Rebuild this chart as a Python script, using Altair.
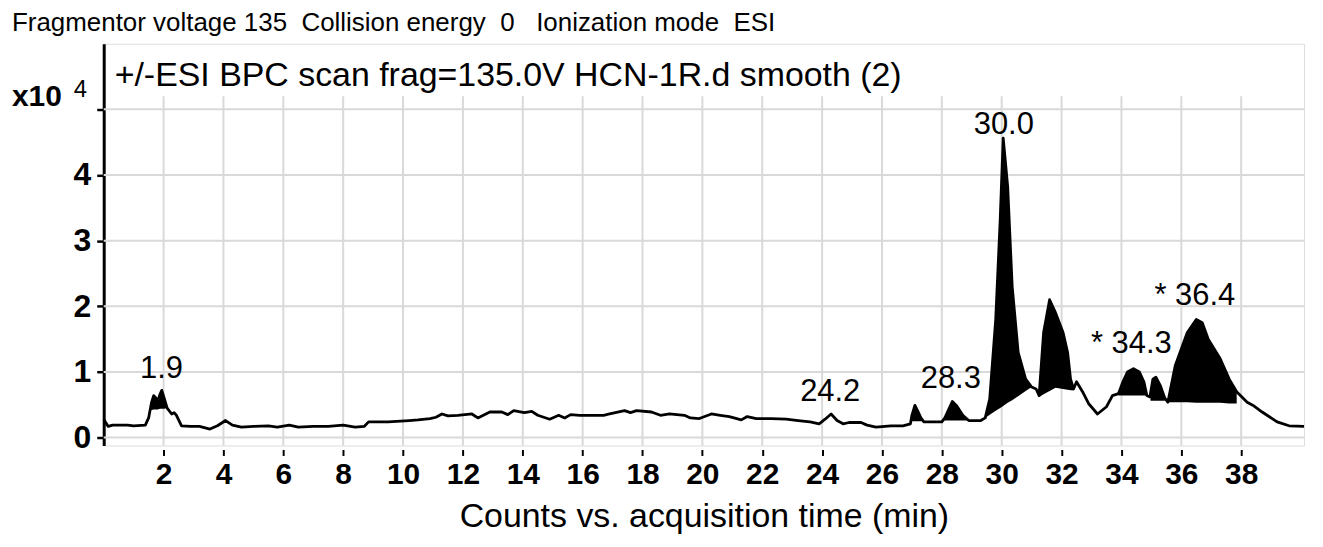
import altair as alt
import pandas as pd

# ---- chromatogram trace (minutes, counts x10^4) ----
trace_t = [0.0, 0.15, 0.3, 0.8, 1.0, 1.39, 1.5, 1.6, 1.67, 1.75, 1.8, 1.88, 1.94, 2.02, 2.12,
           2.27, 2.35, 2.43, 2.6, 2.9, 3.2, 3.55, 3.8, 4.07, 4.3, 4.6, 5.0, 5.5, 5.8, 6.2, 6.5,
           7.0, 7.5, 8.0, 8.4, 8.7, 8.85, 9.5, 10.2, 10.5, 10.9, 11.1, 11.3, 11.5, 11.83, 12.3,
           12.5, 12.9, 13.3, 13.5, 13.7, 14.05, 14.3, 14.5, 14.9, 15.2, 15.4, 15.6, 15.9, 16.7,
           16.9, 17.4, 17.6, 17.8, 18.3, 18.6, 18.9, 19.4, 19.6, 19.9, 20.3, 20.6, 20.9, 21.3,
           21.5, 21.8, 22.3, 22.8, 23.2, 23.6, 23.9, 24.1, 24.3, 24.5, 24.7, 24.9, 25.3, 25.5,
           25.8, 26.3, 26.7, 26.95, 27.0, 27.1, 27.2, 27.3, 27.4, 28.0, 28.1, 28.2, 28.35, 28.5,
           28.7, 28.9, 29.3, 29.45, 29.6, 29.8, 29.95, 30.05, 30.2, 30.35, 30.55, 30.8, 31.0,
           31.15, 31.25, 31.4, 31.6, 31.8, 32.05, 32.2, 32.3, 32.4, 32.5, 32.7, 32.9, 33.2, 33.5,
           33.7, 33.9, 34.05, 34.2, 34.4, 34.6, 34.75, 34.85, 34.95, 35.05, 35.15, 35.3, 35.45,
           35.55, 35.8, 36.2, 36.5, 36.7, 36.9, 37.3, 37.6, 37.85, 38.2, 38.4, 38.7, 39.2, 39.6,
           40.1]
trace_v = [0.28, 0.17, 0.19, 0.19, 0.18, 0.19, 0.30, 0.54, 0.64, 0.60, 0.54, 0.66, 0.72, 0.60, 0.45,
           0.36, 0.38, 0.34, 0.18, 0.17, 0.17, 0.13, 0.18, 0.26, 0.19, 0.16, 0.17, 0.18, 0.16, 0.19, 0.16,
           0.17, 0.17, 0.19, 0.16, 0.17, 0.24, 0.24, 0.26, 0.27, 0.29, 0.31, 0.36, 0.33, 0.34, 0.36,
           0.30, 0.39, 0.39, 0.35, 0.41, 0.38, 0.40, 0.34, 0.28, 0.34, 0.30, 0.35, 0.34, 0.34,
           0.36, 0.41, 0.38, 0.41, 0.39, 0.34, 0.36, 0.34, 0.30, 0.29, 0.36, 0.34, 0.32, 0.27,
           0.32, 0.29, 0.29, 0.28, 0.26, 0.24, 0.21, 0.28, 0.36, 0.26, 0.21, 0.23, 0.23, 0.19,
           0.16, 0.18, 0.18, 0.21, 0.34, 0.49, 0.40, 0.30, 0.24, 0.24, 0.30, 0.40, 0.55, 0.48,
           0.34, 0.26, 0.26, 0.30, 0.59, 1.80, 3.32, 4.56, 3.82, 2.30, 1.30, 0.89, 0.77,
           0.74, 0.64, 1.60, 2.10, 1.90, 1.60, 1.30, 0.89, 0.74, 0.85, 0.70, 0.52, 0.36, 0.47,
           0.64, 0.67, 0.85, 1.00, 1.05, 1.00, 0.85, 0.64, 0.62, 0.89, 0.92, 0.79, 0.60,
           0.54, 1.10, 1.60, 1.80, 1.75, 1.50, 1.20, 0.89, 0.70, 0.54, 0.49, 0.39, 0.24, 0.18,
           0.17]

# ---- integrated (filled) peaks ----
fill_peak = (["1.9"] * 9 + ["27.1"] * 6 + ["28.3"] * 7 + ["30.0"] * 10 + ["31.6"] * 8
             + ["34.3"] * 8 + ["35.1"] * 5 + ["36.4"] * 9)
fill_t = [1.55, 1.6, 1.67, 1.75, 1.8, 1.88, 1.94, 2.02, 2.12,
          26.97, 27.0, 27.1, 27.2, 27.3, 27.35,
          28.05, 28.1, 28.2, 28.35, 28.5, 28.7, 28.85,
          29.45, 29.6, 29.8, 29.95, 30.05, 30.2, 30.35, 30.55, 30.8, 31.0,
          31.25, 31.4, 31.6, 31.8, 32.05, 32.2, 32.3, 32.38,
          33.9, 34.05, 34.2, 34.4, 34.6, 34.75, 34.85, 34.87,
          34.97, 35.05, 35.15, 35.3, 35.45,
          35.57, 35.8, 36.2, 36.5, 36.7, 36.9, 37.3, 37.6, 37.85]
fill_top = [0.42, 0.54, 0.64, 0.60, 0.54, 0.66, 0.72, 0.60, 0.45,
            0.27, 0.34, 0.49, 0.40, 0.30, 0.27,
            0.27, 0.30, 0.40, 0.55, 0.48, 0.34, 0.28,
            0.30, 0.59, 1.80, 3.32, 4.56, 3.82, 2.30, 1.30, 0.89, 0.77,
            0.64, 1.60, 2.10, 1.90, 1.60, 1.30, 0.89, 0.76,
            0.67, 0.85, 1.00, 1.05, 1.00, 0.85, 0.64, 0.64,
            0.62, 0.89, 0.92, 0.79, 0.60,
            0.58, 1.10, 1.60, 1.80, 1.75, 1.50, 1.20, 0.89, 0.70]
fill_base = [0.42, 0.42, 0.43, 0.43, 0.43, 0.44, 0.44, 0.44, 0.45,
             0.25, 0.25, 0.25, 0.25, 0.25, 0.25,
             0.26, 0.26, 0.26, 0.26, 0.26, 0.26, 0.26,
             0.30, 0.35, 0.41, 0.45, 0.48, 0.53, 0.57, 0.63, 0.71, 0.77,
             0.62, 0.66, 0.71, 0.76, 0.74, 0.73, 0.72, 0.72,
             0.64, 0.64, 0.64, 0.64, 0.64, 0.64, 0.64, 0.64,
             0.56, 0.56, 0.56, 0.56, 0.56,
             0.54, 0.54, 0.54, 0.53, 0.53, 0.53, 0.53, 0.52, 0.52]

# ---- peak annotations ----
label_text = ["1.9", "24.2", "28.3", "30.0", "* 34.3", "* 36.4"]
label_t = [1.93, 24.27, 28.3, 30.07, 34.33, 36.45]
label_v = [1.045, 0.70, 0.89, 4.76, 1.42, 2.15]

# ---- axes / grid ----
x_ticks = list(range(2, 39, 2))
y_ticks = [0, 1, 2, 3, 4, 5]
x_domain = [0, 40.1]
y_domain = [-0.12, 6.0]
grid_top = 5.2

FONT = "Liberation Sans"
NB = "\u00a0"

trace_df = pd.DataFrame({"t": trace_t, "v": trace_v})
fill_df = pd.DataFrame({"peak": fill_peak, "t": fill_t, "v": fill_top, "v2": fill_base})
label_df = pd.DataFrame({"label": label_text, "t": label_t, "v": label_v})
vgrid_df = pd.DataFrame({"t": x_ticks, "v": [y_domain[0]] * len(x_ticks), "v2": [grid_top] * len(x_ticks)})
hgrid_df = pd.DataFrame({"v": y_ticks})

x_axis = alt.Axis(values=x_ticks, title="Counts vs. acquisition time (min)", grid=False,
                  domain=False, offset=4, tickSize=6, tickColor="black", tickWidth=2,
                  labelFontSize=30, labelFontWeight="bold", labelColor="black", labelPadding=4,
                  labelFont=FONT, titleFont=FONT,
                  titleFontSize=34, titleFontWeight="normal", titlePadding=10, titleColor="black")
y_axis = alt.Axis(values=y_ticks, title=None, grid=False, domainColor="black", domainWidth=3,
                  tickSize=7, tickColor="black", tickWidth=2.5, labelFontSize=32,
                  labelFont=FONT,
                  labelFontWeight="bold", labelColor="black", labelPadding=6,
                  labelExpr="datum.value == 5 ? '' : datum.label")

xs = alt.Scale(domain=x_domain, nice=False, zero=False)
ys = alt.Scale(domain=y_domain, nice=False, zero=False)

GRID = "#d9d9d9"

vgrid = alt.Chart(vgrid_df).mark_rule(color=GRID, strokeWidth=2).encode(
    x=alt.X("t:Q", scale=xs, axis=x_axis),
    y=alt.Y("v:Q", scale=ys, axis=y_axis),
    y2="v2:Q",
)
hgrid = alt.Chart(hgrid_df).mark_rule(color=GRID, strokeWidth=2).encode(
    y=alt.Y("v:Q", scale=ys, axis=y_axis),
)
fills = alt.Chart(fill_df).mark_area(color="black", opacity=1).encode(
    x=alt.X("t:Q", scale=xs, axis=x_axis),
    y=alt.Y("v:Q", scale=ys, axis=y_axis),
    y2="v2:Q",
    detail="peak:N",
)
line = alt.Chart(trace_df).mark_line(color="black", strokeWidth=2.8, strokeJoin="round").encode(
    x=alt.X("t:Q", scale=xs, axis=x_axis),
    y=alt.Y("v:Q", scale=ys, axis=y_axis),
)
labels = alt.Chart(label_df).mark_text(font=FONT, fontSize=31, color="black",
                                       baseline="middle", align="center").encode(
    x=alt.X("t:Q", scale=xs, axis=x_axis),
    y=alt.Y("v:Q", scale=ys, axis=y_axis),
    text="label:N",
)

title_df = pd.DataFrame({"txt": ["+/-ESI BPC scan frag=135.0V HCN-1R.d smooth (2)"]})
title_in = alt.Chart(title_df).mark_text(font=FONT, fontSize=34, color="black", align="left",
                                         baseline="middle").encode(
    x=alt.value(11), y=alt.value(32), text="txt:N")

header_txt = ("Fragmentor voltage 135" + NB * 2 + "Collision energy" + NB * 2 + "0" + NB * 3
              + "Ionization mode" + NB * 2 + "ESI")
header_df = pd.DataFrame({"txt": [header_txt]})
header = alt.Chart(header_df).mark_text(font=FONT, fontSize=26, color="black", align="left",
                                        baseline="middle").encode(
    x=alt.value(-92), y=alt.value(-21), text="txt:N")

x10_df = pd.DataFrame({"txt": ["x10"]})
x10 = alt.Chart(x10_df).mark_text(font=FONT, fontSize=30, fontWeight="bold", color="black",
                                  align="left", baseline="middle").encode(
    x=alt.value(-92), y=alt.value(53), text="txt:N")
exp_df = pd.DataFrame({"txt": ["4"]})
exp4 = alt.Chart(exp_df).mark_text(font=FONT, fontSize=24, color="black",
                                   align="left", baseline="middle").encode(
    x=alt.value(-30), y=alt.value(46), text="txt:N")

chart = alt.layer(vgrid, hgrid, fills, line, labels, title_in, header, x10, exp4).properties(
    width=1204, height=403,
    autosize=alt.AutoSizeParams(type="none"),
    padding={"left": 96, "top": 35, "right": 11, "bottom": 100},
).configure_view(stroke="black", strokeWidth=2.5).configure(background="white")

chart.save("out.html", embed_options={"renderer": "svg", "actions": False})
